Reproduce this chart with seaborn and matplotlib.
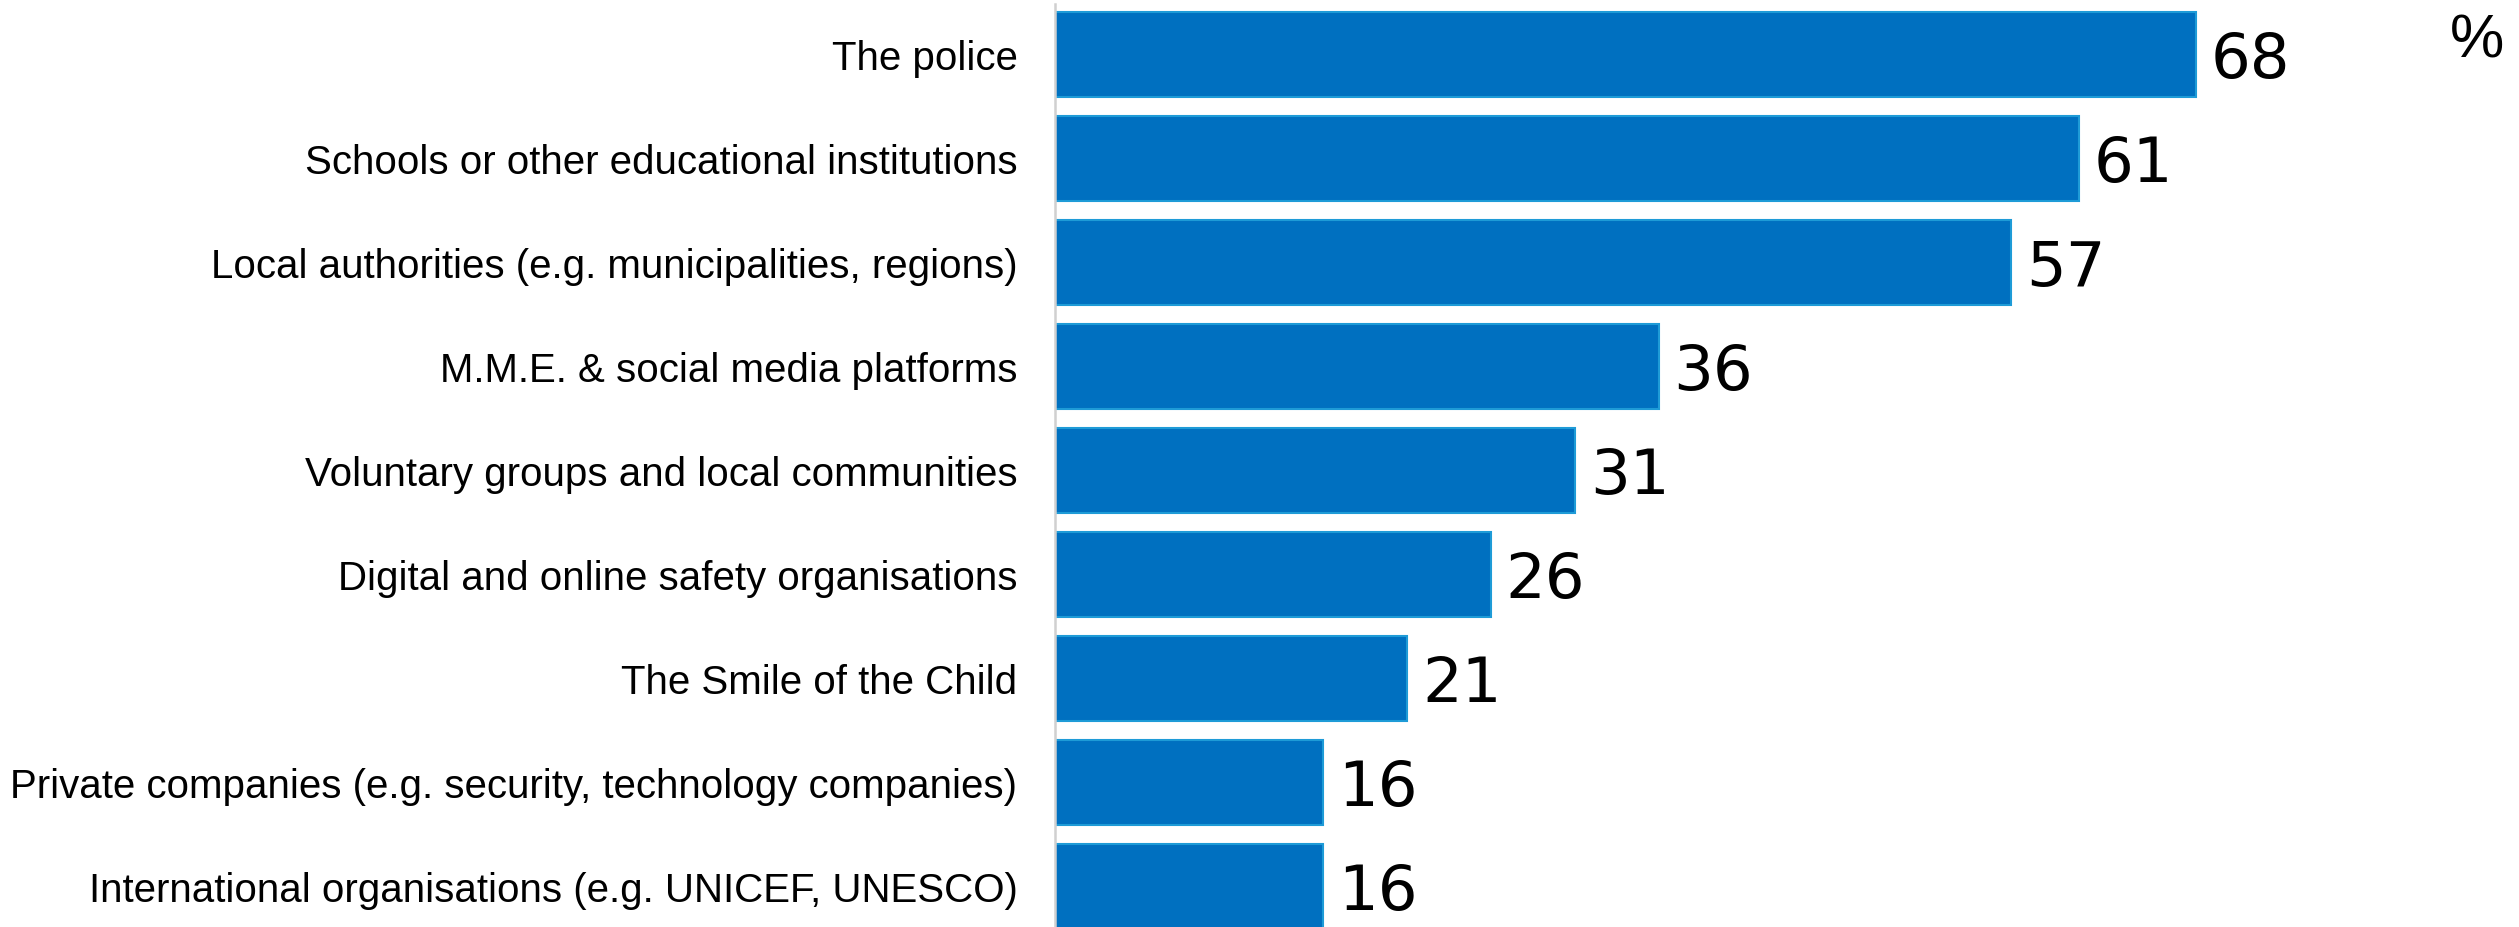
import matplotlib
matplotlib.use("Agg")
import matplotlib.pyplot as plt
import seaborn as sns
import pandas as pd

categories = [
    "The police",
    "Schools or other educational institutions",
    "Local authorities (e.g. municipalities, regions)",
    "M.M.E. & social media platforms",
    "Voluntary groups and local communities",
    "Digital and online safety organisations",
    "The Smile of the Child",
    "Private companies (e.g. security, technology companies)",
    "International organisations (e.g. UNICEF, UNESCO)",
]
values = [68, 61, 57, 36, 31, 26, 21, 16, 16]
unit_label = "%"

sns.set_theme(style="white")
plt.rcParams["font.family"] = ["Liberation Sans", "DejaVu Sans"]

W, H = 2519, 927
fig = plt.figure(figsize=(W / 100, H / 100), dpi=100)
ax_left = 1055 / W
ax_top_px = 4
ax = fig.add_axes([ax_left, 0, 1 - ax_left, (H - ax_top_px) / H])

df = pd.DataFrame({"cat": categories, "val": values})
sns.barplot(data=df, x="val", y="cat", orient="h", color="#0070C0",
            saturation=1, width=0.82, edgecolor="#1E9BD7", linewidth=1.5, ax=ax)

# limits: bar pitch 104 px, first bar centre at y=54.5 px
pitch = 104.0
c0 = 54.5
ax.set_ylim((H - c0) / pitch, (ax_top_px - c0) / pitch)
ppu = 1141 / 68.0
ax.set_xlim(0, (W - 1055) / ppu)

for sp in ["top", "right", "bottom"]:
    ax.spines[sp].set_visible(False)
ax.spines["left"].set_color("#D0D0D0")
ax.spines["left"].set_linewidth(1.8)

ax.set_xlabel("")
ax.set_ylabel("")
ax.set_xticks([])
ax.tick_params(axis="y", length=0, pad=27, labelsize=29, labelcolor="black")

for i, v in enumerate(values):
    ax.annotate(f"{v}", xy=(v, i), xytext=(10.5, 0), textcoords="offset points",
                ha="left", va="center_baseline", fontsize=45, color="black",
                family="DejaVu Sans")

fig.text(2477 / W, 1 - 36 / H, unit_label, ha="center", va="center_baseline",
         fontsize=44, color="black")

fig.savefig("out.png", dpi=100)
